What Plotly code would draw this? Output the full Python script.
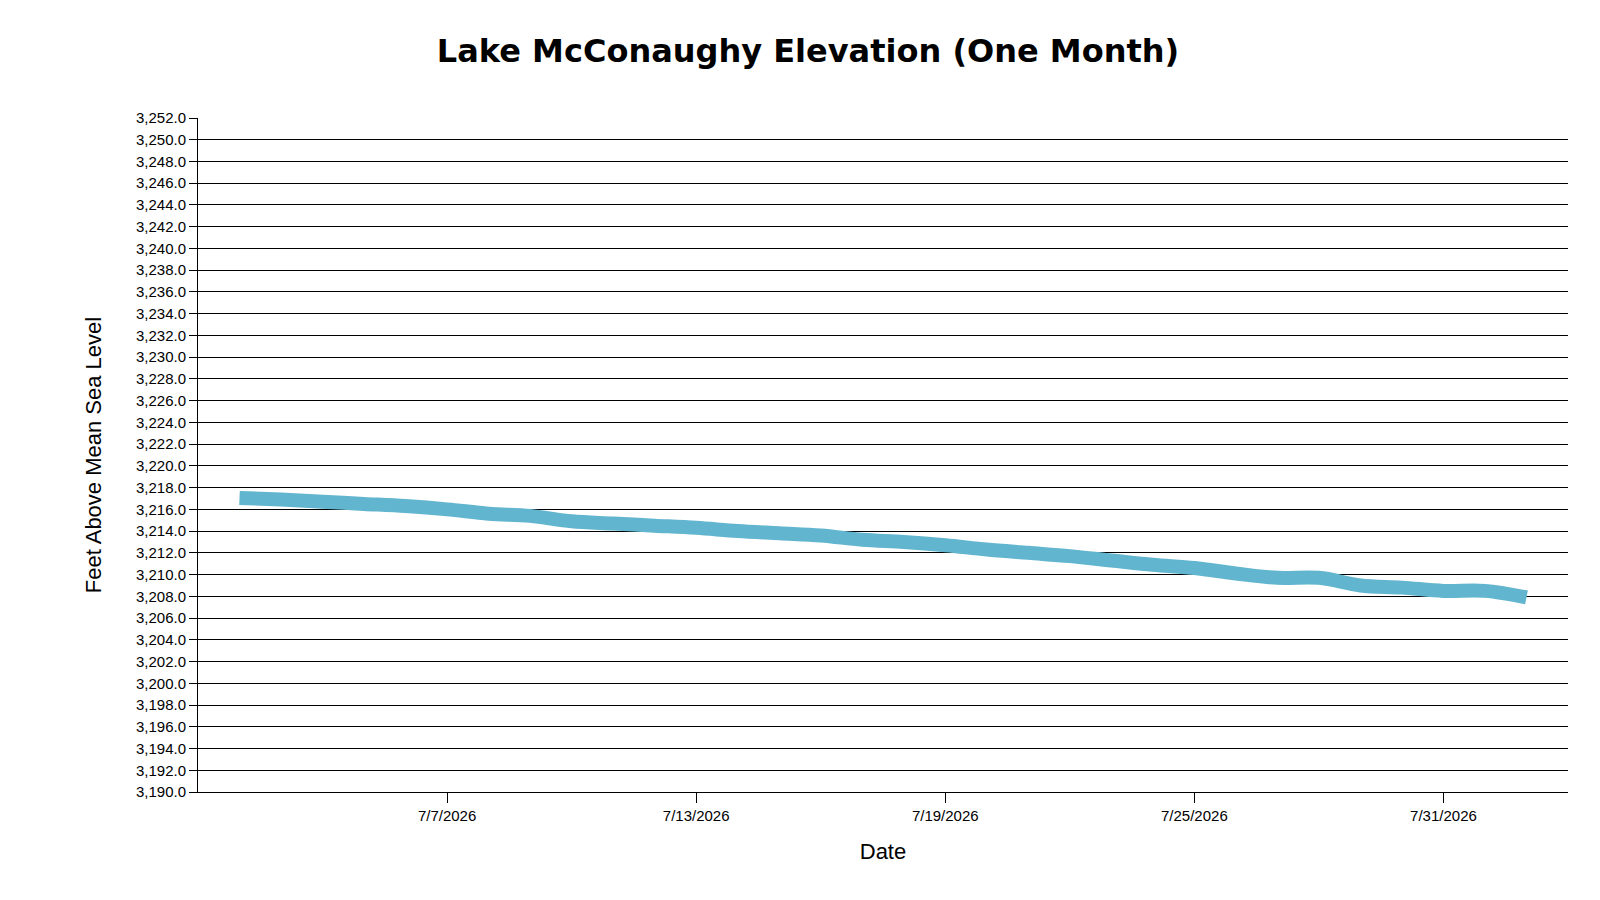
import pandas as pd
import plotly.graph_objects as go

# ── Data ──────────────────────────────────────────────────────────────────────
dates = pd.date_range("2026-07-02", "2026-08-02", freq="D")
elevation = [3217.05, 3216.9, 3216.7, 3216.5, 3216.3, 3216.0, 3215.6, 3215.4,
             3214.9, 3214.7, 3214.5, 3214.3, 3214.0, 3213.8, 3213.6, 3213.2,
             3213.0, 3212.7, 3212.3, 3212.0, 3211.7, 3211.3, 3210.9, 3210.6,
             3210.1, 3209.7, 3209.7, 3209.0, 3208.8, 3208.5, 3208.5, 3207.9]
tick_dates = pd.to_datetime(["2026-07-07", "2026-07-13", "2026-07-19", "2026-07-25", "2026-07-31"])
tick_labels = ["7/7/2026", "7/13/2026", "7/19/2026", "7/25/2026", "7/31/2026"]

fig = go.Figure(go.Scatter(
    x=dates, y=elevation, mode="lines",
    line=dict(color="#62B5CE", width=14, shape="spline"),
    showlegend=False,
))

fig.update_layout(
    width=1600, height=900,
    title=dict(text="<b>Lake McConaughy Elevation (One Month)</b>", x=0.5, y=0.965,
               font=dict(size=32, color="black", family="DejaVu Sans")),
    paper_bgcolor="white", plot_bgcolor="white",
    font=dict(family="Liberation Sans, Arial, sans-serif", color="black"),
    margin=dict(l=190, r=40, t=110, b=116),
)
fig.update_xaxes(
    range=["2026-07-01", "2026-08-03"],
    tickvals=tick_dates, ticktext=tick_labels,
    ticks="outside", ticklen=10, tickcolor="black",
    showline=True, linecolor="black", showgrid=False,
    tickfont=dict(size=15),
    title=dict(text="Date", font=dict(size=22), standoff=20),
)
fig.update_yaxes(
    range=[3190, 3252], dtick=2, tickformat=",.1f",
    ticks="outside", ticklen=8, tickcolor="black",
    showline=True, linecolor="black",
    showgrid=True, gridcolor="black", gridwidth=1, zeroline=False,
    tickfont=dict(size=15),
    title=dict(text="Feet Above Mean Sea Level", font=dict(size=22), standoff=28),
)

fig.write_html("out.html")
